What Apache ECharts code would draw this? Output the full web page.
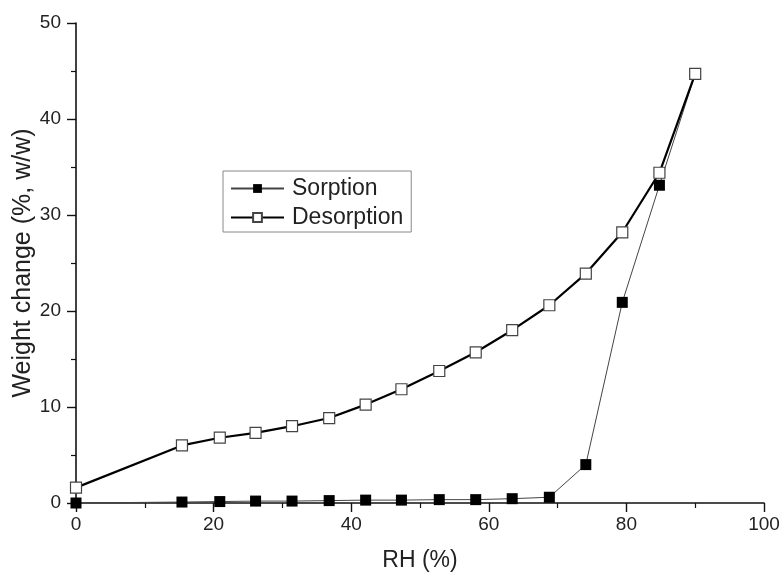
<!DOCTYPE html>
<html>
<head>
<meta charset="utf-8">
<script src="https://cdn.jsdelivr.net/npm/echarts@6/dist/echarts.min.js"></script>
<style>
html,body{margin:0;padding:0;background:#fff;}
#c{width:784px;height:575px;}
</style>
</head>
<body>
<div id="c"></div>
<script>
var rh = [0, 15.4, 20.9, 26.1, 31.4, 36.8, 42.1, 47.3, 52.8, 58.1, 63.4, 68.8, 74.1, 79.4, 84.8, 90.0];
var sorption = [0, 0.1, 0.15, 0.2, 0.2, 0.25, 0.3, 0.3, 0.35, 0.35, 0.45, 0.6, 4.0, 20.9, 33.1, 44.7];
var desorption = [1.6, 6.0, 6.8, 7.3, 8.0, 8.85, 10.25, 11.85, 13.75, 15.7, 18.0, 20.6, 23.9, 28.2, 34.4, 44.7];
var seriesNames = ['Sorption', 'Desorption'];
var xTitle = 'RH (%)';
var yTitle = 'Weight change (%, w/w)';

function pairs(xs, ys) { return xs.map(function (x, i) { return [x, ys[i]]; }); }

var FONT = '"Liberation Sans", Arial, sans-serif';
var chart = echarts.init(document.getElementById('c'), null, { renderer: 'canvas' });

function axisCommon(min, max, interval, name, nameGap, labelMargin, nameSize) {
  return {
    type: 'value', min: min, max: max, interval: interval,
    name: name, nameLocation: 'middle', nameGap: nameGap, nameMoveOverlap: false,
    nameTextStyle: { fontFamily: FONT, fontSize: nameSize, color: '#222' },
    axisLine: { show: true, onZero: false, lineStyle: { color: '#111', width: 1.6 } },
    axisTick: { show: true, inside: false, length: 9, lineStyle: { color: '#111', width: 1.4 } },
    minorTick: { show: true, splitNumber: 2, length: 5, lineStyle: { color: '#111', width: 1.2 } },
    splitLine: { show: false },
    axisLabel: { fontFamily: FONT, fontSize: 19, color: '#222', margin: labelMargin }
  };
}

var option = {
  backgroundColor: '#fff',
  animation: false,
  grid: { left: 76, right: 20, top: 23, bottom: 72, containLabel: false, outerBoundsMode: 'none' },
  xAxis: axisCommon(0, 100, 20, xTitle, 46, 12, 23),
  yAxis: axisCommon(0, 50, 10, yTitle, 40, 15, 25),
  legend: {
    orient: 'vertical', left: 223, top: 171,
    padding: [6, 8, 3, 7],
    itemGap: 6, itemWidth: 53, itemHeight: 11,
    borderColor: '#888', borderWidth: 1,
    textStyle: { fontFamily: FONT, fontSize: 23, color: '#222', lineHeight: 23, padding: [0, 0, 0, 3] },
    data: seriesNames
  },
  series: [
    {
      name: seriesNames[0], type: 'line', data: pairs(rh, sorption),
      symbol: 'rect', symbolSize: 11, z: 2,
      lineStyle: { color: '#444', width: 1 },
      itemStyle: { color: '#000', borderColor: '#000', borderWidth: 0 }
    },
    {
      name: seriesNames[1], type: 'line', data: pairs(rh, desorption),
      symbol: 'rect', symbolSize: 11, z: 3,
      lineStyle: { color: '#000', width: 2.2 },
      itemStyle: { color: '#fff', borderColor: '#444', borderWidth: 1.2 }
    }
  ]
};
chart.setOption(option);
</script>
</body>
</html>
